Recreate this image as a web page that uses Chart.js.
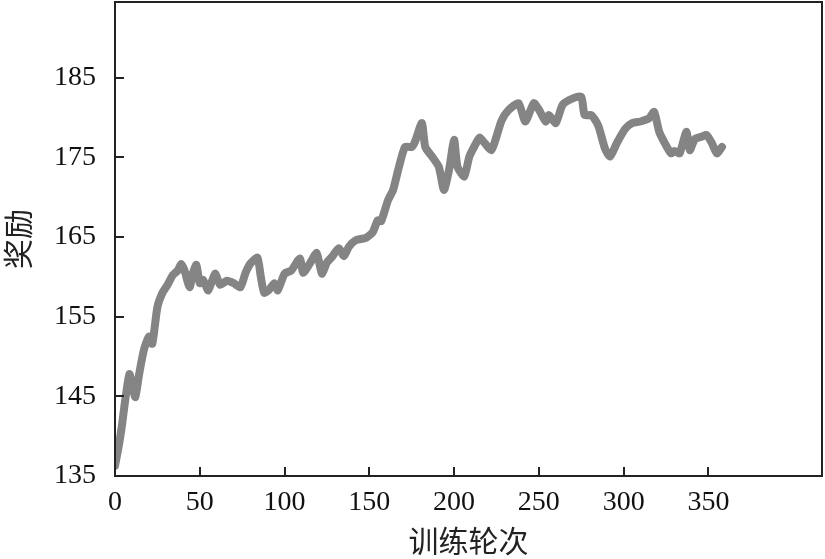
<!DOCTYPE html>
<html lang="zh">
  <head>
    <meta charset="UTF-8" />
    <title>训练奖励曲线</title>
    <script src="https://cdn.jsdelivr.net/npm/chart.js"></script>
    <style>
      body { margin: 0; background: #fff; }
      #wrap { width: 825px; height: 559px; }
    </style>
  </head>
  <body>
    <div id="wrap"><canvas id="rewardChart" width="825" height="559"></canvas></div>

    <script>
      // values
      const episodes = [0, 2, 4, 6, 8.5, 10, 12, 14, 17, 20, 22, 25, 28, 31, 34, 37, 39, 41, 44, 46, 48, 50,
        52, 55, 59, 62, 66, 70, 74, 77, 80, 84, 86, 88, 91, 94, 96, 100, 104, 109, 111, 115, 119, 122,
        125, 128, 132, 135, 138, 142, 148, 152, 155, 157, 161, 164, 167, 171, 175, 177, 181, 183, 187,
        191, 194, 197, 200, 202, 206, 209, 213, 215, 218, 222, 225, 228, 232, 238, 242, 247, 250, 254,
        256, 260, 264, 270, 275, 277, 281, 285, 289, 292, 296, 301, 305, 310, 315, 318, 321, 325, 328,
        330, 333, 337, 339, 342, 346, 349, 352, 355, 358];
      const rewards = [136.3, 138.5, 141.2, 144.5, 147.8, 146.5, 144.9, 147.5, 150.8, 152.5, 151.6, 156.2,
        158, 159, 160.2, 160.8, 161.6, 160.8, 158.7, 160.5, 161.5, 159.2, 159.6, 158.3, 160.4, 159,
        159.5, 159.2, 158.7, 160.5, 161.7, 162.4, 160, 158, 158.4, 159.2, 158.3, 160.4, 160.8, 162.3,
        160.5, 161.7, 163, 160.4, 161.8, 162.5, 163.6, 162.6, 163.8, 164.6, 164.9, 165.6, 167.1, 167,
        169.6, 170.9, 173.4, 176.3, 176.3, 177, 179.3, 176.3, 175.1, 173.8, 170.9, 173.4, 177.2, 173.8,
        172.6, 175.1, 176.8, 177.5, 176.8, 175.9, 177.6, 179.6, 180.9, 181.8, 179.5, 181.8, 181, 179.5,
        180.3, 179.3, 181.6, 182.4, 182.6, 180.3, 180.3, 179, 176.1, 175.1, 176.8, 178.6, 179.3, 179.5,
        179.9, 180.7, 178.2, 176.5, 175.5, 175.8, 175.5, 178.2, 175.9, 177.3, 177.6, 177.8, 176.8,
        175.5, 176.3];
      const xTicks = [0, 50, 100, 150, 200, 250, 300, 350];
      const yTicks = [135, 145, 155, 165, 175, 185];

      const points = episodes.map((e, i) => ({ x: e, y: rewards[i] }));
      const serif = "'Liberation Serif', 'DejaVu Serif', serif";
      const cjk = "'Noto Sans CJK SC', sans-serif";

      // box around the plot and ticks pointing inward
      const frame = {
        id: "frame",
        afterDraw(chart) {
          const { ctx, chartArea: a, scales } = chart;
          ctx.save();
          ctx.strokeStyle = "#222";
          ctx.lineWidth = 2;
          ctx.strokeRect(a.left, a.top, a.right - a.left, a.bottom - a.top);
          ctx.beginPath();
          xTicks.forEach((t) => {
            const px = Math.round(scales.x.getPixelForValue(t));
            ctx.moveTo(px, a.bottom);
            ctx.lineTo(px, a.bottom - 9);
          });
          yTicks.forEach((t) => {
            const py = Math.round(scales.y.getPixelForValue(t));
            ctx.moveTo(a.left, py);
            ctx.lineTo(a.left + 9, py);
          });
          ctx.stroke();
          ctx.restore();
        },
      };

      new Chart(document.getElementById("rewardChart"), {
        type: "line",
        data: {
          datasets: [
            {
              data: points,
              borderColor: "#848484",
              borderWidth: 8,
              pointRadius: 0,
              tension: 0.2,
              borderJoinStyle: "round",
              borderCapStyle: "round",
              fill: false,
            },
          ],
        },
        options: {
          responsive: false,
          animation: false,
          layout: { padding: { top: 2, right: 3, left: 0, bottom: 0 } },
          plugins: { legend: { display: false }, tooltip: { enabled: false } },
          scales: {
            x: {
              type: "linear",
              min: 0,
              max: 417,
              afterBuildTicks: (s) => { s.ticks = xTicks.map((v) => ({ value: v })); },
              afterFit: (s) => { s.height = 83; s.paddingLeft = 0; s.paddingRight = 0; },
              grid: { display: false },
              border: { display: false },
              ticks: { color: "#111", font: { family: serif, size: 28 }, padding: 2, maxRotation: 0 },
              title: { display: true, text: "训练轮次", color: "#222", font: { family: cjk, size: 30 }, padding: 0 },
            },
            y: {
              min: 135,
              max: 194.5,
              afterBuildTicks: (s) => { s.ticks = yTicks.map((v) => ({ value: v })); },
              afterFit: (s) => { s.width = 115; s.paddingTop = 0; s.paddingBottom = 0; },
              grid: { display: false },
              border: { display: false },
              ticks: { color: "#111", font: { family: serif, size: 28 }, padding: 11 },
              title: { display: true, text: "奖励", color: "#222", font: { family: cjk, size: 30 }, padding: { top: 0, bottom: 6 } },
            },
          },
        },
        plugins: [frame],
      });
    </script>
  </body>
</html>
